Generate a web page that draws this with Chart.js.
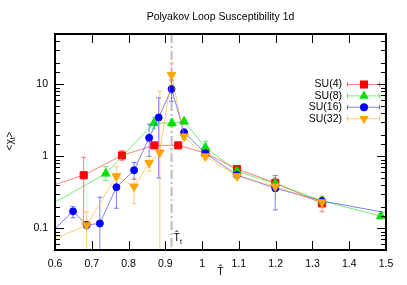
<!DOCTYPE html>
<html>
<head>
<meta charset="utf-8">
<script src="https://cdn.jsdelivr.net/npm/chart.js@4.4.0/dist/chart.umd.min.js"></script>
<style>
  body { margin: 0; background: #fff; }
  canvas { display: block; }
</style>
</head>
<body>
<canvas id="myChart" width="407" height="285"></canvas>
<script>
// datos (puntos fuera del rango solo para que la linea llegue al borde)
const su4X  = [0.56, 0.678, 0.782, 0.870, 0.935, 1.009, 1.095, 1.199, 1.326];
const su4Y  = [0.349, 0.546, 1.03, 1.42, 1.42, 1.11, 0.668, 0.428, 0.222];
const su4Lo = [null, 0.115, 0.88, 1.30, 1.32, 1.00, 0.60, 0.38, 0.17];
const su4Hi = [null, 0.97, 1.20, 1.55, 1.52, 1.22, 0.74, 0.50, 0.28];

const su8X  = [0.56, 0.738, 0.869, 0.918, 0.951, 1.009, 1.095, 1.199, 1.326, 1.486];
const su8Y  = [0.177, 0.576, 2.89, 2.89, 3.05, 1.33, 0.62, 0.42, 0.24, 0.148];
const su8Lo = [null, 0.46, 2.4, 2.6, 2.8, 1.10, 0.56, 0.38, 0.21, 0.135];
const su8Hi = [null, 0.72, 3.5, 3.2, 3.3, 1.62, 0.68, 0.46, 0.27, 0.160];

const su16X  = [0.56, 0.649, 0.686, 0.722, 0.767, 0.815, 0.856, 0.882, 0.917, 0.951, 1.009, 1.095, 1.199, 1.326, 1.55];
const su16Y  = [0.063, 0.172, 0.111, 0.117, 0.373, 0.64, 1.81, 3.46, 8.6, 2.15, 1.10, 0.55, 0.36, 0.24, 0.148];
const su16Lo = [null, 0.14, 0.10, 0.03, 0.19, 0.48, 1.0, 0.5, 5.8, 1.9, 1.0, 0.52, 0.18, 0.22, null];
const su16Hi = [null, 0.20, 0.125, 0.27, 0.50, 0.82, 2.8, 6.5, 11.5, 2.4, 1.2, 0.60, 0.54, 0.26, null];

const su32X  = [0.56, 0.686, 0.767, 0.815, 0.856, 0.885, 0.917, 0.951, 1.009, 1.095, 1.199, 1.326];
const su32Y  = [0.059, 0.11, 0.53, 0.38, 0.81, 1.13, 13.5, 1.89, 1.00, 0.53, 0.38, 0.23];
const su32Lo = [null, 0.03, 0.37, 0.22, 0.62, 0.03, 8.0, 1.7, 0.9, 0.50, 0.34, 0.21];
const su32Hi = [null, 0.17, 0.72, 0.50, 1.00, 8.0, 20.0, 2.1, 1.1, 0.56, 0.42, 0.25];

const xTicks = [0.6, 0.7, 0.8, 0.9, 1.0, 1.1, 1.2, 1.3, 1.4, 1.5];
const tTransicion = 0.917;

const FONT = '"Liberation Sans", Arial, sans-serif';

function puntos(xs, ys) {
    return xs.map((x, i) => ({ x: x, y: ys[i] }));
}

function marcador(ctx, estilo, x, y, r, color) {
    ctx.save();
    ctx.fillStyle = color;
    ctx.beginPath();
    if (estilo === 'rect') {
        const s = Math.SQRT1_2 * r + 0.5;
        ctx.rect(x - s, y - s, 2 * s, 2 * s);
    } else if (estilo === 'circle') {
        ctx.arc(x, y, r + 0.5, 0, Math.PI * 2);
    } else {
        const rr = r + 0.5;
        const sgn = estilo === 'down' ? -1 : 1;
        ctx.moveTo(x, y - sgn * rr);
        ctx.lineTo(x + rr * 0.866, y + sgn * rr * 0.5);
        ctx.lineTo(x - rr * 0.866, y + sgn * rr * 0.5);
        ctx.closePath();
    }
    ctx.fill();
    ctx.restore();
}

// barras de error, linea vertical, bordes, ticks hacia adentro y leyenda
const extras = {
    id: 'extras',
    beforeDatasetsDraw(chart) {
        const ctx = chart.ctx;
        const a = chart.chartArea;
        const xs = chart.scales.x, ys = chart.scales.y;
        ctx.save();
        ctx.beginPath();
        ctx.rect(a.left, a.top, a.right - a.left, a.bottom - a.top);
        ctx.clip();

        // linea de transicion
        const px = xs.getPixelForValue(tTransicion);
        ctx.strokeStyle = '#bdbdbd';
        ctx.lineWidth = 2;
        ctx.setLineDash([9, 3, 2, 3]);
        ctx.beginPath();
        ctx.moveTo(px, a.top);
        ctx.lineTo(px, a.bottom);
        ctx.stroke();
        ctx.setLineDash([]);

        chart.data.datasets.forEach(ds => {
            ctx.strokeStyle = ds.borderColor;
            ctx.lineWidth = 1;
            ds.data.forEach((p, i) => {
                if (ds.errLo[i] == null) return;
                const x = xs.getPixelForValue(p.x);
                const y1 = ys.getPixelForValue(ds.errLo[i]);
                const y2 = ys.getPixelForValue(ds.errHi[i]);
                ctx.beginPath();
                ctx.moveTo(x, y1); ctx.lineTo(x, y2);
                ctx.moveTo(x - 2.5, y1); ctx.lineTo(x + 2.5, y1);
                ctx.moveTo(x - 2.5, y2); ctx.lineTo(x + 2.5, y2);
                ctx.stroke();
            });
        });
        ctx.restore();
    },
    afterDraw(chart) {
        const ctx = chart.ctx;
        const a = chart.chartArea;
        const xs = chart.scales.x, ys = chart.scales.y;
        ctx.save();

        // ticks
        ctx.strokeStyle = '#000';
        ctx.lineWidth = 1;
        ctx.beginPath();
        xTicks.forEach(v => {
            const x = Math.round(xs.getPixelForValue(v)) + 0.5;
            ctx.moveTo(x, a.bottom); ctx.lineTo(x, a.bottom - 9);
            ctx.moveTo(x, a.top); ctx.lineTo(x, a.top + 9);
        });
        ys.ticks.forEach(t => {
            const lg = Math.log10(t.value);
            const mayor = Math.abs(lg - Math.round(lg)) < 1e-6;
            const largo = mayor ? 9 : 5;
            const y = Math.round(ys.getPixelForValue(t.value)) + 0.5;
            ctx.moveTo(a.left, y); ctx.lineTo(a.left + largo, y);
            ctx.moveTo(a.right, y); ctx.lineTo(a.right - largo, y);
        });
        ctx.stroke();

        // borde
        ctx.lineWidth = 2;
        ctx.strokeRect(a.left, a.top, a.right - a.left, a.bottom - a.top);

        // titulo
        ctx.fillStyle = '#000';
        ctx.font = '10.5px ' + FONT;
        ctx.textAlign = 'center';
        ctx.textBaseline = 'middle';
        ctx.fillText('Polyakov Loop Susceptibility 1d', (a.left + a.right) / 2, 17);

        // titulo eje y: <chi_t>
        ctx.save();
        ctx.translate(9, 141);
        ctx.rotate(-Math.PI / 2);
        ctx.textAlign = 'left';
        ctx.textBaseline = 'alphabetic';
        ctx.font = '10px ' + FONT;
        const w1 = ctx.measureText('<\u03c7').width;
        ctx.font = '7px ' + FONT;
        const w2 = ctx.measureText('t').width;
        ctx.font = '10px ' + FONT;
        const w3 = ctx.measureText('>').width;
        let x0 = -(w1 + w2 + w3) / 2;
        ctx.fillText('<\u03c7', x0, 4);
        ctx.font = '7px ' + FONT;
        ctx.fillText('t', x0 + w1, 6);
        ctx.font = '10px ' + FONT;
        ctx.fillText('>', x0 + w1 + w2, 4);
        ctx.restore();

        // etiqueta T_t
        const px = xs.getPixelForValue(tTransicion);
        ctx.textAlign = 'left';
        ctx.textBaseline = 'alphabetic';
        ctx.font = '10.5px ' + FONT;
        ctx.fillText('T\u0302', px + 2, 241);
        const wt = ctx.measureText('T').width;
        ctx.font = '7px ' + FONT;
        ctx.fillText('t', px + 2 + wt, 244);

        // leyenda
        chart.data.datasets.forEach((ds, i) => {
            const y = 84.5 + i * 11.4;
            ctx.font = '10.5px ' + FONT;
            ctx.textAlign = 'right';
            ctx.textBaseline = 'middle';
            ctx.fillStyle = '#000';
            ctx.fillText(ds.label, 342, y);
            ctx.strokeStyle = ds.borderColor;
            ctx.lineWidth = 1;
            ctx.beginPath();
            ctx.moveTo(347, y); ctx.lineTo(380, y);
            ctx.moveTo(347.5, y - 2.5); ctx.lineTo(347.5, y + 2.5);
            ctx.moveTo(379.5, y - 2.5); ctx.lineTo(379.5, y + 2.5);
            ctx.stroke();
            marcador(ctx, ds.marca, 364, y, ds.pointRadius, ds.pointBackgroundColor);
        });
        ctx.restore();
    }
};

const ctx = document.getElementById('myChart').getContext('2d');

new Chart(ctx, {
    type: 'line',
    data: {
        datasets: [
            {
                label: 'SU(4)', data: puntos(su4X, su4Y), errLo: su4Lo, errHi: su4Hi, marca: 'rect',
                borderColor: 'rgba(255, 0, 0, 0.5)', pointBackgroundColor: '#ff0000', pointBorderColor: '#ff0000',
                pointStyle: 'rect', pointRadius: 5, order: 4
            },
            {
                label: 'SU(8)', data: puntos(su8X, su8Y), errLo: su8Lo, errHi: su8Hi, marca: 'triangle',
                borderColor: 'rgba(0, 220, 0, 0.55)', pointBackgroundColor: '#00e000', pointBorderColor: '#00e000',
                pointStyle: 'triangle', pointRadius: 5, order: 3
            },
            {
                label: 'SU(16)', data: puntos(su16X, su16Y), errLo: su16Lo, errHi: su16Hi, marca: 'circle',
                borderColor: 'rgba(0, 0, 255, 0.5)', pointBackgroundColor: '#0000ff', pointBorderColor: '#0000ff',
                pointStyle: 'circle', pointRadius: 3.5, order: 2
            },
            {
                label: 'SU(32)', data: puntos(su32X, su32Y), errLo: su32Lo, errHi: su32Hi, marca: 'down',
                borderColor: 'rgba(255, 165, 0, 0.55)', pointBackgroundColor: '#ffa500', pointBorderColor: '#ffa500',
                pointStyle: 'triangle', rotation: 180, pointRadius: 5, order: 1
            }
        ]
    },
    options: {
        responsive: false,
        animation: false,
        events: [],
        layout: { padding: { left: 0, right: 21, top: 34, bottom: 0 } },
        datasets: {
            line: { borderWidth: 1, tension: 0, fill: false, pointBorderWidth: 1 }
        },
        plugins: {
            legend: { display: false },
            title: { display: false },
            tooltip: { enabled: false }
        },
        scales: {
            x: {
                type: 'linear',
                position: 'bottom',
                min: 0.6,
                max: 1.5,
                afterFit: s => { s.height = 35; },
                afterBuildTicks: s => { s.ticks = xTicks.map(v => ({ value: v })); },
                grid: { display: false, drawTicks: false },
                border: { display: false },
                ticks: {
                    padding: 8,
                    maxRotation: 0,
                    autoSkip: false,
                    color: '#000',
                    font: { size: 10.5, family: FONT },
                    callback: v => String(Math.round(v * 10) / 10)
                },
                title: {
                    display: true,
                    text: 'T\u0302',
                    color: '#000',
                    font: { size: 10.5, family: FONT },
                    padding: { top: 0, bottom: 7 }
                }
            },
            y: {
                type: 'logarithmic',
                position: 'left',
                min: 0.05,
                max: 50,
                afterFit: s => { s.width = 55; },
                grid: { display: false, drawTicks: false },
                border: { display: false },
                ticks: {
                    padding: 7,
                    autoSkip: false,
                    color: '#000',
                    font: { size: 10.5, family: FONT },
                    callback: v => {
                        const lg = Math.log10(v);
                        return Math.abs(lg - Math.round(lg)) < 1e-6 ? String(v) : '';
                    }
                }
            }
        }
    },
    plugins: [extras]
});
</script>
</body>
</html>
